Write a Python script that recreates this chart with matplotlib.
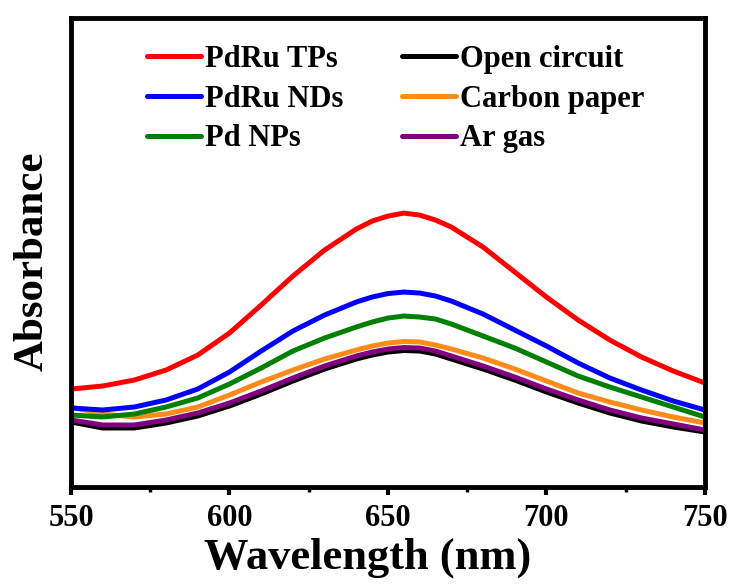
import numpy as np
import matplotlib.pyplot as plt
from matplotlib.ticker import MultipleLocator

plt.rcParams['font.family'] = ['Liberation Serif', 'DejaVu Serif']
plt.rcParams['font.weight'] = 'bold'

wl = [550, 560, 570, 580, 590, 600, 610, 620, 630, 640, 645, 650, 655,
      660, 665, 670, 680, 690, 700, 710, 720, 730, 740, 750]

# absorbance (a.u.)
pdru_tps = [0.098, 0.101, 0.107, 0.117, 0.132, 0.154, 0.182, 0.211, 0.237, 0.258,
            0.266, 0.271, 0.274, 0.272, 0.267, 0.260, 0.240, 0.215, 0.190, 0.167,
            0.147, 0.130, 0.116, 0.104]
pdru_nds = [0.079, 0.077, 0.080, 0.087, 0.098, 0.115, 0.136, 0.156, 0.172, 0.185,
            0.190, 0.1935, 0.195, 0.194, 0.191, 0.186, 0.173, 0.157, 0.141, 0.124,
            0.109, 0.097, 0.086, 0.077]
pd_nps = [0.072, 0.070, 0.073, 0.080, 0.089, 0.103, 0.119, 0.136, 0.149, 0.160,
          0.165, 0.169, 0.171, 0.170, 0.168, 0.163, 0.151, 0.139, 0.125, 0.111,
          0.100, 0.090, 0.080, 0.070]
open_circuit = [0.065, 0.059, 0.059, 0.064, 0.071, 0.081, 0.093, 0.106, 0.118, 0.128,
                0.132, 0.135, 0.1365, 0.136, 0.133, 0.128, 0.118, 0.107, 0.095, 0.084,
                0.074, 0.066, 0.060, 0.055]
carbon_paper = [0.080, 0.073, 0.070, 0.073, 0.080, 0.092, 0.105, 0.117, 0.128, 0.137,
                0.141, 0.144, 0.1455, 0.145, 0.142, 0.138, 0.129, 0.118, 0.106, 0.094,
                0.085, 0.077, 0.070, 0.064]
ar_gas = [0.067, 0.062, 0.062, 0.067, 0.074, 0.084, 0.096, 0.109, 0.121, 0.131,
          0.135, 0.138, 0.1395, 0.139, 0.136, 0.131, 0.121, 0.110, 0.098, 0.087,
          0.077, 0.069, 0.063, 0.057]

series = [
    ('PdRu TPs', pdru_tps, '#ff0000'),
    ('PdRu NDs', pdru_nds, '#0000ff'),
    ('Pd NPs', pd_nps, '#008000'),
    ('Open circuit', open_circuit, '#000000'),
    ('Carbon paper', carbon_paper, '#ff8c1a'),
    ('Ar gas', ar_gas, '#800080'),
]

fig = plt.figure(figsize=(7.32, 5.86), dpi=100)
ax = fig.add_axes([0.097, 0.169, 0.866, 0.800])

# black first so the purple line sits on top of it
order = [3, 4, 5, 2, 1, 0]
handles = {}
for i in order:
    name, vals, col = series[i]
    ln, = ax.plot(wl, vals, color=col, lw=3.6, label=name,
                  solid_capstyle='round', solid_joinstyle='round')
    handles[name] = ln

ax.set_xlim(550, 750)
ax.set_ylim(0, 0.469)
ax.set_yticks([])
ax.xaxis.set_major_locator(MultipleLocator(50))
ax.xaxis.set_minor_locator(MultipleLocator(25))
ax.tick_params(axis='x', which='major', direction='out', length=6, width=3,
               labelsize=22, pad=6)
ax.tick_params(axis='x', which='minor', direction='out', length=3.5, width=2.5)
for s in ax.spines.values():
    s.set_linewidth(3.5)

ax.set_xlabel('Wavelength (nm)', fontsize=32, fontweight='bold')
ax.xaxis.set_label_coords(0.468, -0.108)
ax.set_ylabel('Absorbance', fontsize=31, fontweight='bold')
ax.yaxis.set_label_coords(-0.030, 0.482)

names = [s[0] for s in series]
ax.legend([handles[n] for n in names], names, ncol=2, loc='upper left',
          bbox_to_anchor=(0.12, 0.943), frameon=False, fontsize=22,
          handlelength=1.76, handletextpad=0.15, columnspacing=1.9,
          labelspacing=0.35, borderpad=0, borderaxespad=0)

fig.savefig('out.png', dpi=100)
